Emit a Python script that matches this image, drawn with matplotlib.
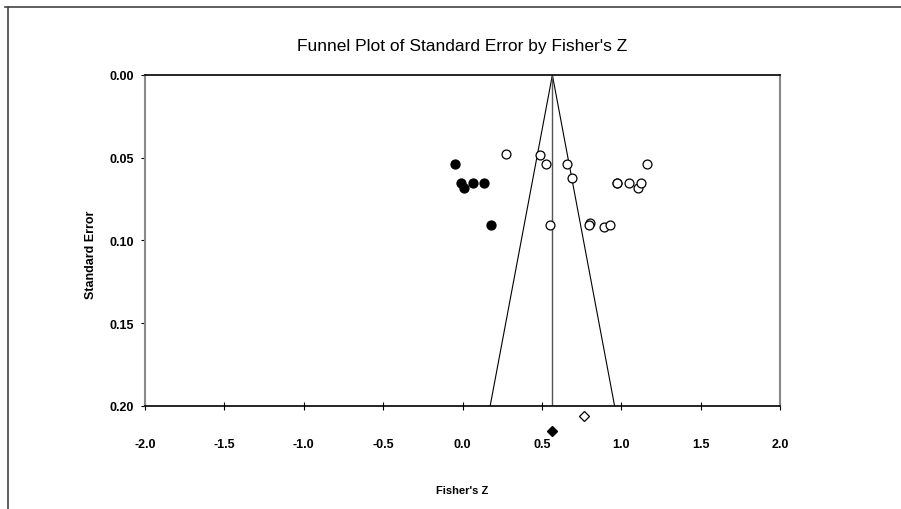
import numpy as np
import matplotlib.pyplot as plt
from matplotlib.lines import Line2D

# observed studies (filled = imputed, open = observed)
filled_z = [-0.045, -0.009, 0.008, 0.066, 0.138, 0.182]
filled_se = [0.0536, 0.0653, 0.0683, 0.0653, 0.0653, 0.0908]
open_z = [0.273, 0.488, 0.523, 0.656, 0.688, 0.549, 0.801, 0.797, 0.892, 0.930,
          0.972, 0.976, 1.048, 1.105, 1.124, 1.160]
open_se = [0.0477, 0.0482, 0.0536, 0.0536, 0.0622, 0.0908, 0.0896, 0.0908, 0.0920, 0.0908,
           0.0653, 0.0653, 0.0653, 0.0683, 0.0653, 0.0536]

# summary effects
obs_mean = 0.768
obs_mean_se = 0.206
adj_mean = 0.566
adj_mean_se = 0.215
se_max = 0.20

xticks = [-2.0, -1.5, -1.0, -0.5, 0.0, 0.5, 1.0, 1.5, 2.0]
yticks = [0.00, 0.05, 0.10, 0.15, 0.20]

plt.rcParams['font.family'] = ['Liberation Sans', 'DejaVu Sans']

fig = plt.figure(figsize=(9.01, 5.10), dpi=100)
ax = fig.add_axes([0.161, 0.202, 0.7047, 0.649])

# funnel
ax.plot([adj_mean - 1.96 * se_max, adj_mean, adj_mean + 1.96 * se_max], [se_max, 0, se_max],
        color='black', lw=0.8)
ax.plot([adj_mean, adj_mean], [0, se_max], color='#555555', lw=1.0)

ax.plot(open_z, open_se, 'o', mfc='white', mec='black', mew=0.9, ms=6.4, zorder=3)
ax.plot(filled_z, filled_se, 'o', mfc='black', mec='black', ms=6.4, zorder=3)

ax.plot([obs_mean], [obs_mean_se], 'D', mfc='white', mec='black', mew=0.9, ms=5, clip_on=False, zorder=4)
ax.plot([adj_mean], [adj_mean_se], 'D', mfc='black', mec='black', ms=5, clip_on=False, zorder=4)

ax.set_xlim(-2.0, 2.0)
ax.set_ylim(0.20, 0.00)
ax.set_xticks(xticks)
ax.set_xticklabels(['%.1f' % v for v in xticks], fontweight='bold', fontsize=9)
ax.set_yticks(yticks)
ax.set_yticklabels(['%.2f' % v for v in yticks], fontweight='bold', fontsize=9)
ax.tick_params(axis='x', direction='inout', length=6, width=0.8, pad=20)
ax.tick_params(axis='y', direction='out', length=3, width=0.8, pad=5)

for s in ['top', 'bottom']:
    ax.spines[s].set_color('black')
    ax.spines[s].set_linewidth(1.2)
for s in ['left', 'right']:
    ax.spines[s].set_color('#888888')
    ax.spines[s].set_linewidth(1.5)

ax.set_title("Funnel Plot of Standard Error by Fisher's Z", fontsize=12.5, pad=18)
ax.set_xlabel("Fisher's Z", fontweight='bold', fontsize=8)
ax.xaxis.set_label_coords(0.5, -0.24)
ax.set_ylabel("Standard Error", fontweight='bold', fontsize=9)
ax.yaxis.set_label_coords(-0.075, 0.459)

# outer frame
fig.add_artist(Line2D([5 / 901, 1], [1 - 8 / 510, 1 - 8 / 510], transform=fig.transFigure,
                      color='#444444', lw=1.2))
fig.add_artist(Line2D([8 / 901, 8 / 901], [0, 1 - 8 / 510], transform=fig.transFigure,
                      color='#444444', lw=1.2))

fig.savefig('out.png', dpi=100)
